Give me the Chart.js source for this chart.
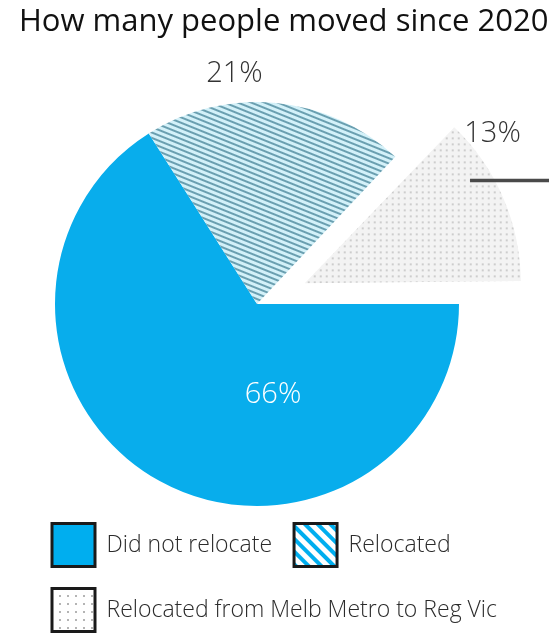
<!DOCTYPE html>
<html>
<head>
<meta charset="utf-8">
<script src="https://cdn.jsdelivr.net/npm/chart.js@4.4.1/dist/chart.umd.min.js"></script>
<style>
  html, body { margin: 0; padding: 0; background: #ffffff; }
  #wrap { width: 549px; height: 633px; position: relative; }
</style>
</head>
<body>
<div id="wrap"><canvas id="c" width="549" height="633"></canvas></div>
<script>
// ---- data ----
const TITLE = 'How many people moved since 2020';
const CATEGORIES = ['Did not relocate', 'Relocated', 'Relocated from Melb Metro to Reg Vic'];
const VALUES = [66, 21, 13];
const VALUE_LABELS = VALUES.map(v => v + '%');

// ---- styling helpers ----
const BLUE = '#08adec';
const FONT = "'Open Sans', 'Noto Sans', sans-serif";

function stripePattern(bg, fg, period, width, angle) {
  const c = document.createElement('canvas');
  c.width = 8; c.height = period;
  const t = c.getContext('2d');
  t.fillStyle = bg; t.fillRect(0, 0, 8, period);
  t.fillStyle = fg; t.fillRect(0, 0, 8, width);
  const p = t.createPattern(c, 'repeat');
  p.setTransform(new DOMMatrix().rotate(angle));
  return p;
}
function dotPattern(bg, fg, size, r) {
  const c = document.createElement('canvas');
  c.width = size; c.height = size;
  const t = c.getContext('2d');
  t.fillStyle = bg; t.fillRect(0, 0, size, size);
  t.fillStyle = fg;
  t.beginPath(); t.arc(size / 2, size / 2, r, 0, Math.PI * 2); t.fill();
  return t.createPattern(c, 'repeat');
}

const sliceFills = [
  BLUE,
  stripePattern('#d3f1f9', '#6a9fb0', 5, 2, 22),
  dotPattern('#f3f3f3', '#bdbdbd', 6, 0.9)
];
const legendFills = [
  '#00aeef',
  stripePattern('#ffffff', '#00aeef', 9, 4, 45),
  dotPattern('#ffffff', '#555555', 8, 0.8)
];

// label placement relative to pie centre (angle in degrees clockwise from 3 o'clock, radius as fraction of pie radius)
const LABEL_PLACE = [
  { angle: 80.8, r: 0.4965, color: '#ffffff' },
  { angle: 264.2, r: 1.1047, color: '#333333' },
  { angle: 325.5, r: 1.415, color: '#333333' }
];
const LEADER = { angle: 329.9, r: 1.219 };

const decorPlugin = {
  id: 'decor',
  afterLayout(chart) {
    // let the legend use the full canvas width (so the long label is not clipped)
    const lg = chart.legend;
    if (lg) { lg.right = chart.width; lg.width = lg.right - lg.left; }
  },
  afterDatasetsDraw(chart) {
    const ctx = chart.ctx;
    const meta = chart.getDatasetMeta(0);
    const a0 = meta.data[0];
    const cx = a0.x, cy = a0.y, R = a0.outerRadius;
    ctx.save();
    ctx.textAlign = 'center';
    ctx.textBaseline = 'alphabetic';
    ctx.font = '300 29px ' + FONT;
    VALUE_LABELS.forEach((txt, i) => {
      const p = LABEL_PLACE[i];
      const ang = p.angle * Math.PI / 180;
      ctx.fillStyle = p.color;
      ctx.fillText(txt, cx + Math.cos(ang) * R * p.r, cy + Math.sin(ang) * R * p.r);
    });
    // leader line
    const la = LEADER.angle * Math.PI / 180;
    const lx = cx + Math.cos(la) * R * LEADER.r;
    const ly = cy + Math.sin(la) * R * LEADER.r;
    ctx.strokeStyle = '#4a4a4a';
    ctx.lineWidth = 3.5;
    ctx.beginPath(); ctx.moveTo(lx, ly); ctx.lineTo(chart.width, ly); ctx.stroke();
    // title
    ctx.textAlign = 'left';
    ctx.fillStyle = '#111111';
    ctx.font = '400 31px ' + FONT;
    ctx.fillText(TITLE, 19, 31);
    ctx.restore();
  }
};

new Chart(document.getElementById('c'), {
  type: 'pie',
  data: {
    labels: CATEGORIES,
    datasets: [{
      data: VALUES,
      backgroundColor: sliceFills,
      borderWidth: 0,
      offset: [0, 0, 208],
      clip: false
    }]
  },
  options: {
    responsive: false,
    animation: false,
    events: [],
    rotation: 90,
    radius: 202,
    layout: { padding: { top: 106.5, left: 30, right: 65, bottom: -8.5 } },
    plugins: {
      tooltip: { enabled: false },
      title: { display: false },
      legend: {
        display: true,
        position: 'bottom',
        align: 'start',
        labels: {
          boxWidth: 43,
          boxHeight: 43,
          padding: 22,
          color: '#2b2b2b',
          font: { family: FONT, size: 23, weight: '300' },
          generateLabels: () => CATEGORIES.map((t, i) => ({
            text: t,
            fillStyle: legendFills[i],
            strokeStyle: '#1a1a1a',
            lineWidth: 3,
            hidden: false,
            index: i,
            fontColor: '#2b2b2b'
          }))
        }
      }
    }
  },
  plugins: [decorPlugin]
});
</script>
</body>
</html>
